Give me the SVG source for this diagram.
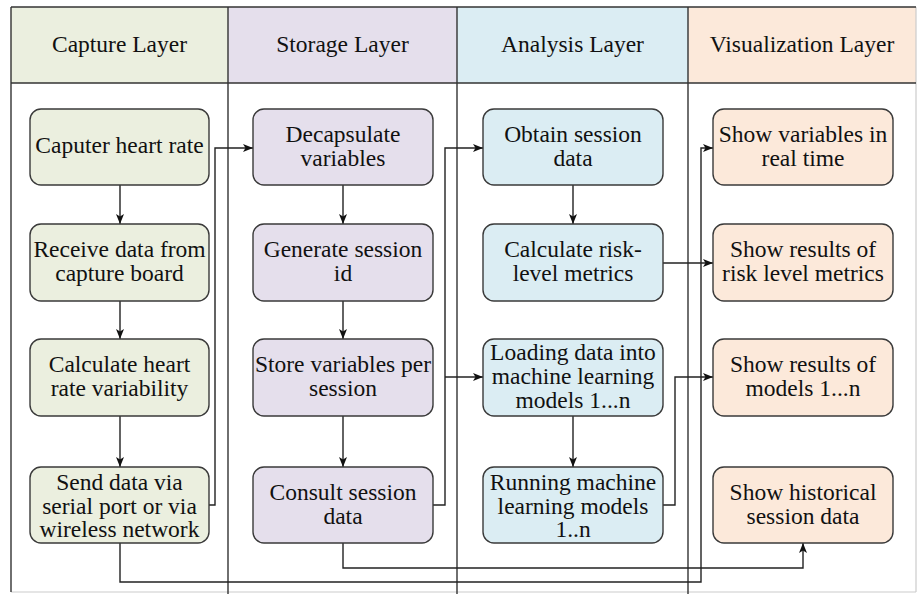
<svg xmlns="http://www.w3.org/2000/svg" width="917" height="594" viewBox="0 0 917 594" font-family="Liberation Serif, Times New Roman, DejaVu Serif, serif">
<style>
text{font-size:23.5px;fill:#111;text-anchor:middle}
.box{stroke:#3a3a3a;stroke-width:1.4}
.cap{fill:#ebefdf}.sto{fill:#e5dfec}.ana{fill:#dbedf3}.vis{fill:#fce9da}
.conn path{fill:none;stroke:#222;stroke-width:1.4}
.frame{stroke:#333;stroke-width:1.4;fill:none}
</style>
<defs>
<marker id="arr" viewBox="0 0 10 8" refX="10" refY="4" markerWidth="10" markerHeight="8" markerUnits="userSpaceOnUse" orient="auto">
<path d="M0,0 L10,4 L0,8 L2.5,4 Z" fill="#111"/>
</marker>
</defs>
<rect x="0" y="0" width="917" height="594" fill="#fff"/>
<g id="headers">
<rect x="11" y="7" width="217" height="76" class="cap"/>
<rect x="228" y="7" width="229" height="76" class="sto"/>
<rect x="457" y="7" width="231" height="76" class="ana"/>
<rect x="688" y="7" width="228" height="76" class="vis"/>
<text x="119.5" y="52" font-family="Liberation Serif">Capture Layer</text>
<text x="342.5" y="52">Storage Layer</text>
<text x="572.5" y="52">Analysis Layer</text>
<text x="802" y="52">Visualization Layer</text>
</g>
<g id="frame">
<line x1="916" y1="7" x2="916" y2="592" stroke="#ccc" stroke-width="1.2"/>
<line x1="11" y1="592" x2="916" y2="592" stroke="#ccc" stroke-width="1.2"/>
<line x1="11" y1="7" x2="916" y2="7" class="frame"/>
<line x1="11" y1="83" x2="916" y2="83" class="frame"/>
<line x1="11" y1="7" x2="11" y2="592" class="frame"/>
<line x1="228" y1="7" x2="228" y2="594" class="frame"/>
<line x1="457" y1="7" x2="457" y2="594" class="frame"/>
<line x1="688" y1="7" x2="688" y2="594" class="frame"/>
</g>
<g class="conn" id="connectors">
<path d="M120,185 V224" marker-end="url(#arr)"/>
<path d="M120,301 V339" marker-end="url(#arr)"/>
<path d="M120,416 V467" marker-end="url(#arr)"/>
<path d="M343,185 V224" marker-end="url(#arr)"/>
<path d="M343,301 V339" marker-end="url(#arr)"/>
<path d="M343,416 V467" marker-end="url(#arr)"/>
<path d="M573,185 V224" marker-end="url(#arr)"/>
<path d="M573,416 V467" marker-end="url(#arr)"/>
<path d="M209,505 H215 V148 H253" marker-end="url(#arr)"/>
<path d="M433,505 H445 V148 H483" marker-end="url(#arr)"/>
<path d="M445,377 H483" marker-end="url(#arr)"/>
<path d="M120,543 V582 H701 V148 H713" marker-end="url(#arr)"/>
<path d="M343,543 V568 H803 V543" marker-end="url(#arr)"/>
<path d="M663,263 H713" marker-end="url(#arr)"/>
<path d="M663,505 H675 V377 H713" marker-end="url(#arr)"/>
</g>
<g id="n1"><rect x="30" y="109" width="179" height="76" rx="11" class="box cap"/><text x="119.5" y="153">Caputer heart rate</text></g>
<g id="n2"><rect x="30" y="224" width="179" height="77" rx="11" class="box cap"/><text x="119.5" y="257">Receive data from</text><text x="119.5" y="280.5">capture board</text></g>
<g id="n3"><rect x="30" y="339" width="179" height="77" rx="11" class="box cap"/><text x="119.5" y="372">Calculate heart</text><text x="119.5" y="395.5">rate variability</text></g>
<g id="n4"><rect x="30" y="467" width="179" height="76" rx="11" class="box cap"/><text x="119.5" y="490">Send data via</text><text x="119.5" y="513.5">serial port or via</text><text x="119.5" y="537">wireless network</text></g>
<g id="n5"><rect x="253" y="109" width="180" height="76" rx="11" class="box sto"/><text x="343" y="142">Decapsulate</text><text x="343" y="165.5">variables</text></g>
<g id="n6"><rect x="253" y="224" width="180" height="77" rx="11" class="box sto"/><text x="343" y="257">Generate session</text><text x="343" y="280.5">id</text></g>
<g id="n7"><rect x="253" y="339" width="180" height="77" rx="11" class="box sto"/><text x="343" y="372">Store variables per</text><text x="343" y="395.5">session</text></g>
<g id="n8"><rect x="253" y="467" width="180" height="76" rx="11" class="box sto"/><text x="343" y="500">Consult session</text><text x="343" y="523.5">data</text></g>
<g id="n9"><rect x="483" y="109" width="180" height="76" rx="11" class="box ana"/><text x="573" y="142">Obtain session</text><text x="573" y="165.5">data</text></g>
<g id="n10"><rect x="483" y="224" width="180" height="77" rx="11" class="box ana"/><text x="573" y="257">Calculate risk-</text><text x="573" y="280.5">level metrics</text></g>
<g id="n11"><rect x="483" y="339" width="180" height="77" rx="11" class="box ana"/><text x="573" y="360">Loading data into</text><text x="573" y="384">machine learning</text><text x="573" y="408">models 1...n</text></g>
<g id="n12"><rect x="483" y="467" width="180" height="76" rx="11" class="box ana"/><text x="573" y="490">Running machine</text><text x="573" y="513.5">learning models</text><text x="573" y="537">1..n</text></g>
<g id="n13"><rect x="713" y="109" width="180" height="76" rx="11" class="box vis"/><text x="803" y="142">Show variables in</text><text x="803" y="165.5">real time</text></g>
<g id="n14"><rect x="713" y="224" width="180" height="77" rx="11" class="box vis"/><text x="803" y="257">Show results of</text><text x="803" y="280.5">risk level metrics</text></g>
<g id="n15"><rect x="713" y="339" width="180" height="77" rx="11" class="box vis"/><text x="803" y="372">Show results of</text><text x="803" y="395.5">models 1...n</text></g>
<g id="n16"><rect x="713" y="467" width="180" height="76" rx="11" class="box vis"/><text x="803" y="500">Show historical</text><text x="803" y="523.5">session data</text></g>
</svg>
